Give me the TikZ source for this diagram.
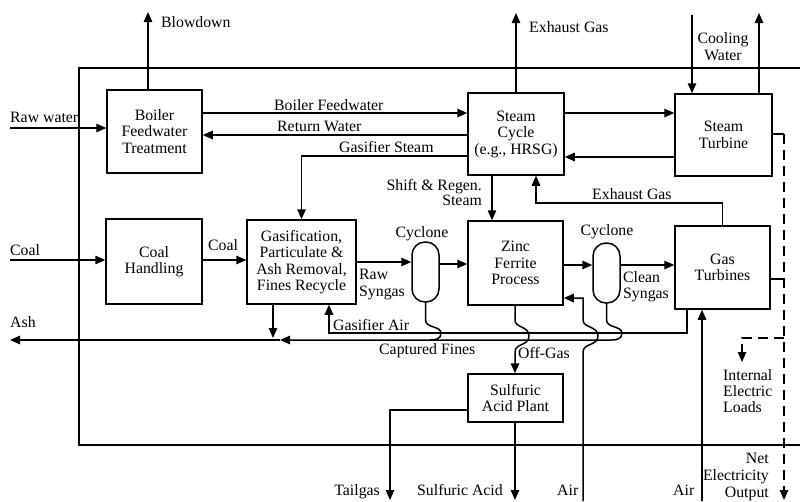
\documentclass[tikz,border=0pt]{standalone}
\usepackage{fontspec}
\setmainfont{Liberation Serif}
\usetikzlibrary{arrows.meta}
\begin{document}
\begin{tikzpicture}[x=1pt,y=-1pt,
  every node/.style={font=\fontsize{15.8}{16.5}\selectfont, inner sep=0pt},
  blk/.style={draw, line width=1.5pt, align=center},
  cyc/.style={draw, line width=1.5pt, rounded corners=13pt, minimum width=27pt, minimum height=60pt},
  flow/.style={line width=1.5pt},
  arr/.style={flow, -{Triangle[length=10pt,width=8.5pt]}},
  lbl/.style={anchor=base west},
  lblr/.style={anchor=base east},
  lblc/.style={anchor=base},
  elec/.style={line width=1.5pt, dash pattern=on 10pt off 6pt, -{Triangle[length=10pt,width=8.5pt]}},
]
\useasboundingbox (0,0) rectangle (800,501);

% boundary
\draw[line width=2.2pt] (800,68) -- (79,68) -- (79,445) -- (800,445);

% blocks
\node[blk, minimum width=95pt, minimum height=83pt] (bft) at (154.5,131.5) {Boiler\\Feedwater\\Treatment};
\node[blk, minimum width=96pt, minimum height=82pt] (sc) at (516,134) {Steam\\Cycle\\(e.g., HRSG)};
\node[blk, minimum width=97pt, minimum height=82pt] (st) at (723.5,135) {Steam\\Turbine};
\node[blk, minimum width=96pt, minimum height=85pt] (ch) at (154,261.5) {Coal\\Handling};
\node[blk, minimum width=109pt, minimum height=84pt] (gas) at (301.5,262) {Gasification,\\Particulate \&\\Ash Removal,\\Fines Recycle};
\node[blk, minimum width=95pt, minimum height=84pt] (zf) at (515.5,263) {Zinc\\Ferrite\\Process};
\node[blk, minimum width=95pt, minimum height=83pt] (gt) at (722.5,267.5) {Gas\\Turbines};
\node[blk, minimum width=95pt, minimum height=48pt] (sap) at (515.5,398) {Sulfuric\\Acid Plant};
\node[cyc] (cyc1) at (425.5,272) {};
\node[cyc] (cyc2) at (606.5,273) {};

% water / steam connectors
\draw[arr] (bft.north -| 148,0) -- (148,12);
\draw[arr] (10,128) -- (bft.west |- 0,128);
\draw[arr] (bft.east |- 0,113) -- (sc.west |- 0,113);
\draw[arr] (sc.west |- 0,135) -- (bft.east |- 0,135);
\draw[arr] (sc.west |- 0,156) -| (gas.north);
\draw[arr] (sc.north) -- (516,13);
\draw[arr] (sc.east |- 0,113) -- (st.west |- 0,113);
\draw[arr] (st.west |- 0,157) -- (sc.east |- 0,157);
\draw[arr] (692,15) -- (st.north -| 692,0);
\draw[arr] (st.north -| 759,0) -- (759,13);
\draw[arr] (sc.south -| 492,0) -- (zf.north -| 492,0);
\draw[arr] (gt.north) -- (722.5,203) -| (sc.south -| 536,0);

% coal / gas train
\draw[arr] (10,260) -- (ch.west |- 0,260);
\draw[arr] (ch.east |- 0,260) -- (gas.west |- 0,260);
\draw[arr] (gas.east |- 0,262) -- (cyc1.west |- 0,262);
\draw[arr] (cyc1.east |- 0,264) -- (zf.west |- 0,264);
\draw[arr] (zf.east |- 0,265) -- (cyc2.west |- 0,265);
\draw[arr] (cyc2.east |- 0,265) -- (gt.west |- 0,265);

% gasifier air, fines, ash
\draw[arr] (gt.south -| 687,0) |- (329,333) -- (gas.south -| 329,0);
\draw[arr] (gas.south -| 273,0) -- (273,338);
\draw[arr] (cyc2.south) -- (606.5,320) .. controls (606.5,328) and (622,326) .. (622,333) .. controls (622,339) and (617,340) .. (611,340) -- (280,340);
\draw[flow] (cyc1.south) -- (425.5,320) .. controls (425.5,328) and (441,326) .. (441,333) .. controls (441,339) and (436,340) .. (430,340);
\draw[arr] (280,340) -- (10,340);

% off-gas and air
\draw[arr] (zf.south -| 515,0) -- (515,320) .. controls (515,328) and (529,326) .. (529,336) .. controls (529,346) and (515,343) .. (515,352) -- (sap.north -| 515,0);
\draw[arr] (583,501) -- (583,352) .. controls (583,343) and (598,346) .. (598,336) .. controls (598,326) and (583,328) .. (583,320) -- (583,298) -- (zf.east |- 0,298);
\draw[arr] (702,501) -- (gt.south -| 702,0);

% sulfuric acid plant outputs
\draw[arr] (sap.west |- 0,410) -- (390,410) -- (390,500);
\draw[arr] (sap.south -| 515,0) -- (515,500);

% electricity
\draw[flow] (st.east |- 0,134) -- (784,134);
\draw[flow] (gt.east |- 0,279) -- (784,279);
\draw[elec] (784,134) -- (784,500);
\draw[elec] (784,338) -- (742,338) -- (742,362);

% labels
\node[lbl] (lblow) at (161,27) {Blowdown};
\node[lbl] (lraw) at (10,122) {Raw water};
\node[lbl] (lbfw) at (274,110) {Boiler Feedwater};
\node[lbl] (lret) at (277,131) {Return Water};
\node[lbl] (lgst) at (339,152) {Gasifier Steam};
\node[lbl] (lexh1) at (529,32) {Exhaust Gas};
\node[lblc] (lcool1) at (723,43) {Cooling};
\node[lblc] (lcool2) at (723,60) {Water};
\node[lblr] (lshift1) at (482,190) {Shift \& Regen.};
\node[lblr] (lshift2) at (482,205) {Steam};
\node[lbl] (lexh2) at (592,199) {Exhaust Gas};
\node[lbl] (lcoal1) at (10,255) {Coal};
\node[lbl] (lcoal2) at (208,250) {Coal};
\node[lblc] (lcyc1) at (422,237) {Cyclone};
\node[lblc] (lcyc2) at (607,235) {Cyclone};
\node[lbl] (lraws1) at (359,279) {Raw};
\node[lbl] (lraws2) at (359,296) {Syngas};
\node[lbl] (lcln1) at (623,282) {Clean};
\node[lbl] (lcln2) at (623,298) {Syngas};
\node[lbl] (lgair) at (333,330) {Gasifier Air};
\node[lbl] (lash) at (10,327) {Ash};
\node[lbl] (lfines) at (379,354) {Captured Fines};
\node[lbl] (loff) at (518,358) {Off-Gas};
\node[lbl] (lint1) at (723,380) {Internal};
\node[lbl] (lint2) at (723,396) {Electric};
\node[lbl] (lint3) at (723,412) {Loads};
\node[lblr] (lnet1) at (769,463) {Net};
\node[lblr] (lnet2) at (769,480) {Electricity};
\node[lblr] (lnet3) at (769,497) {Output};
\node[lblr] (ltail) at (380,495) {Tailgas};
\node[lbl] (lsulf) at (417,495) {Sulfuric Acid};
\node[lbl] (lair1) at (557,495) {Air};
\node[lbl] (lair2) at (673,495) {Air};
\end{tikzpicture}
\end{document}
